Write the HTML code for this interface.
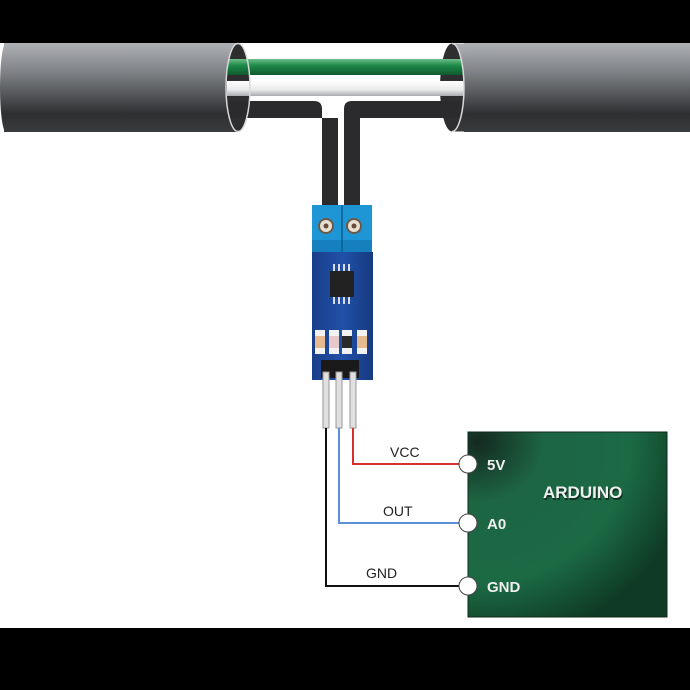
<!DOCTYPE html>
<html><head><style>html,body{margin:0;padding:0;background:#fff}svg{display:block}</style></head>
<body>
<svg width="690" height="690" viewBox="0 0 690 690" xmlns="http://www.w3.org/2000/svg">
<defs>
<linearGradient id="pipe" x1="0" y1="0" x2="0" y2="1">
<stop offset="0" stop-color="#aeb1b5"/><stop offset="0.35" stop-color="#7b7e82"/><stop offset="0.8" stop-color="#2e2f31"/><stop offset="1" stop-color="#3a3b3d"/></linearGradient>
<linearGradient id="grn" x1="0" y1="0" x2="0" y2="1"><stop offset="0" stop-color="#6fbf8a"/><stop offset="0.4" stop-color="#1e8a4a"/><stop offset="1" stop-color="#0f5a2e"/></linearGradient>
<linearGradient id="wht" x1="0" y1="0" x2="0" y2="1"><stop offset="0" stop-color="#ffffff"/><stop offset="0.6" stop-color="#e8e8ea"/><stop offset="1" stop-color="#a9abae"/></linearGradient>
<radialGradient id="ard" cx="0.05" cy="0.05" r="1.1"><stop offset="0" stop-color="#142a20"/><stop offset="0.3" stop-color="#1d6543"/><stop offset="0.7" stop-color="#1b6a44"/><stop offset="1" stop-color="#0f3a25"/></radialGradient>
<linearGradient id="pcb" x1="0" y1="0" x2="1" y2="0"><stop offset="0" stop-color="#1a3f8a"/><stop offset="0.5" stop-color="#2050a8"/><stop offset="1" stop-color="#173a80"/></linearGradient>
</defs>
<rect width="690" height="690" fill="#fff"/>
<rect width="690" height="43" fill="#000"/>
<rect y="628" width="690" height="62" fill="#000"/>
<!-- left pipe body -->
<rect x="4" y="43" width="234" height="89" fill="url(#pipe)"/>
<ellipse cx="6" cy="87.5" rx="6" ry="44.5" fill="url(#pipe)"/>
<!-- pipe interiors -->
<ellipse cx="238" cy="87.5" rx="12" ry="44" fill="#2e2e30"/>
<ellipse cx="452" cy="87.5" rx="12" ry="44" fill="#2e2e30"/>
<!-- inner wires -->
<rect x="228" y="59" width="236" height="16" fill="url(#grn)"/>
<rect x="227" y="81" width="238" height="15" fill="url(#wht)"/>
<rect x="250" y="96" width="190" height="5" fill="#fff"/>
<path d="M229 101 H314 Q322 101 322 109 V206 H338 V118 H229 Z" fill="#2b2b2d"/>
<path d="M463 101 H352 Q344 101 344 109 V206 H360 V118 H463 Z" fill="#2b2b2d"/>
<ellipse cx="238" cy="87.5" rx="12" ry="44" fill="none" stroke="#d8d8d8" stroke-width="1.5"/>
<!-- right pipe body -->
<rect x="464" y="43" width="226" height="89" fill="url(#pipe)"/>
<path d="M452 43.5 A12 44 0 0 1 464 87.5 A12 44 0 0 1 452 131.5 L466 131.5 L466 43.5 Z" fill="url(#pipe)"/>
<path d="M452 43.5 A12 44 0 0 1 464 87.5 A12 44 0 0 1 452 131.5" fill="none" stroke="#d8d8d8" stroke-width="1.5"/>
<!-- terminal block -->
<rect x="312" y="205" width="60" height="47" fill="#1e95d4"/>
<rect x="312" y="240" width="60" height="12" fill="#1580bd"/>
<line x1="342" y1="205" x2="342" y2="252" stroke="#0d5f90" stroke-width="1.5"/>
<circle cx="326" cy="226" r="7" fill="#e8e0d0" stroke="#6a5a4a" stroke-width="2"/>
<circle cx="354" cy="226" r="7" fill="#e8e0d0" stroke="#6a5a4a" stroke-width="2"/>
<circle cx="326" cy="226" r="2.5" fill="#6a4a3a"/><circle cx="354" cy="226" r="2.5" fill="#6a4a3a"/>
<!-- pcb -->
<rect x="312" y="252" width="61" height="128" fill="url(#pcb)"/>
<g fill="#d8dde6"><rect x="333" y="264" width="2" height="7"/><rect x="338" y="264" width="2" height="7"/><rect x="343" y="264" width="2" height="7"/><rect x="348" y="264" width="2" height="7"/>
<rect x="333" y="297" width="2" height="7"/><rect x="338" y="297" width="2" height="7"/><rect x="343" y="297" width="2" height="7"/><rect x="348" y="297" width="2" height="7"/></g>
<rect x="330" y="271" width="24" height="26" fill="#222"/>
<g><rect x="315" y="330" width="10" height="24" fill="#f2f2f2"/><rect x="315" y="336" width="10" height="12" fill="#e6b98f"/>
<rect x="329" y="330" width="10" height="24" fill="#f2f2f2"/><rect x="329" y="336" width="10" height="12" fill="#e8c8c8"/>
<rect x="342" y="330" width="10" height="24" fill="#f2f2f2"/><rect x="342" y="336" width="10" height="12" fill="#2a2a2a"/>
<rect x="357" y="330" width="10" height="24" fill="#f2f2f2"/><rect x="357" y="336" width="10" height="12" fill="#e6b98f"/></g>
<rect x="321" y="360" width="38" height="18" fill="#1a1a1a"/>
<!-- pins -->
<g fill="#e0e0e0" stroke="#999" stroke-width="1"><rect x="323" y="372" width="6" height="56"/><rect x="336" y="372" width="6" height="56"/><rect x="350" y="372" width="6" height="56"/></g>
<!-- wires -->
<polyline points="326,428 326,586 468,586" fill="none" stroke="#111" stroke-width="2"/>
<polyline points="339,428 339,523 468,523" fill="none" stroke="#5b8fd6" stroke-width="2"/>
<polyline points="353,428 353,464 468,464" fill="none" stroke="#d83030" stroke-width="2"/>
<!-- arduino -->
<rect x="468" y="432" width="199" height="185" fill="url(#ard)" stroke="#0c2a1a" stroke-width="1"/>
<g fill="#fff" stroke="#444" stroke-width="1"><circle cx="468" cy="464" r="9"/><circle cx="468" cy="523" r="9"/><circle cx="468" cy="586" r="9"/></g>
<g font-family="Liberation Sans, sans-serif" font-weight="bold" font-size="15">
<text x="544" y="500" font-size="17" fill="#0a1a10" opacity="0.7">ARDUINO</text>
<g fill="#f0f0f0"><text x="487" y="470">5V</text><text x="487" y="529">A0</text><text x="487" y="592">GND</text>
<text x="543" y="498" font-size="17">ARDUINO</text></g></g>
<g font-family="Liberation Sans, sans-serif" fill="#222" font-size="14">
<text x="390" y="457">VCC</text><text x="383" y="516">OUT</text><text x="366" y="578">GND</text></g>
</svg>
</body></html>
